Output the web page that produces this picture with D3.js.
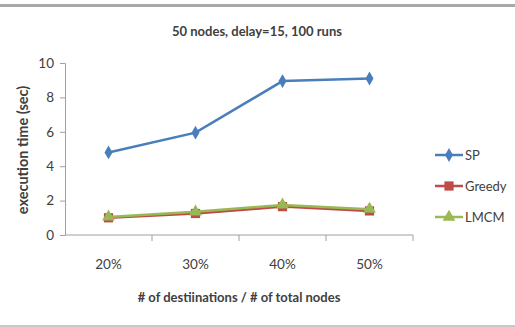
<!DOCTYPE html>
<html>
<head>
<meta charset="utf-8">
<script src="https://cdn.jsdelivr.net/npm/d3@7"></script>
<style>
  body { margin: 0; background: #fff; }
  text { font-family: Lato, "Open Sans", sans-serif; fill: #404040; }
</style>
</head>
<body>
<div id="chart"></div>
<script>
const categories = ["20%", "30%", "40%", "50%"];
const seriesNames = ["SP", "Greedy", "LMCM"];
const spValues = [4.8, 5.95, 8.95, 9.1];
const greedyValues = [1.0, 1.25, 1.65, 1.4];
const lmcmValues = [1.05, 1.35, 1.75, 1.5];
const yTicks = [0, 2, 4, 6, 8, 10];

const colors = {SP: "#4a7ebb", Greedy: "#be4b48", LMCM: "#98b954"};
const series = [
  {name: "SP", values: spValues},
  {name: "Greedy", values: greedyValues},
  {name: "LMCM", values: lmcmValues}
];

const W = 515, H = 327;
const margin = {top: 63, left: 65, right: 102, bottom: 92};
const width = W - margin.left - margin.right,
      height = H - margin.top - margin.bottom;

const svg = d3.select("#chart")
  .append("svg")
    .attr("width", W)
    .attr("height", H);

// outer frame lines
svg.append("rect").attr("x", 0).attr("y", 4).attr("width", W).attr("height", 3).attr("fill", "#a8a8a8");
svg.append("rect").attr("x", 0).attr("y", 325).attr("width", W).attr("height", 2).attr("fill", "#c8c8c8");

const g = svg.append("g").attr("transform", `translate(${margin.left},${margin.top})`);

const x = d3.scaleBand().domain(categories).range([0, width]);
const y = d3.scaleLinear().domain([0, 10]).range([height, 0]);

// y axis
const yAxis = g.append("g")
  .call(d3.axisLeft(y).tickValues(yTicks).tickSize(5).tickPadding(6));
yAxis.select(".domain").attr("stroke", "#a0a0a0");
yAxis.selectAll(".tick line").attr("stroke", "#a0a0a0");
yAxis.selectAll(".tick text").style("font-size", "13.5px").attr("fill", "#404040");

// x axis: ticks at band boundaries, labels at band centres
const xAxisG = g.append("g").attr("transform", `translate(0,${height})`);
xAxisG.append("line").attr("x1", 0).attr("x2", width).attr("stroke", "#a0a0a0");
xAxisG.selectAll(".xtick")
  .data(categories)
  .enter().append("line")
    .attr("x1", d => x(d) + x.bandwidth())
    .attr("x2", d => x(d) + x.bandwidth())
    .attr("y1", 0).attr("y2", 6)
    .attr("stroke", "#a0a0a0");
xAxisG.selectAll(".xlabel")
  .data(categories)
  .enter().append("text")
    .attr("x", d => x(d) + x.bandwidth() / 2)
    .attr("y", 34)
    .attr("text-anchor", "middle")
    .style("font-size", "13.5px")
    .text(d => d);

// lines
const line = d3.line()
  .x((d, i) => x(categories[i]) + x.bandwidth() / 2)
  .y(d => y(d));

const sym = {
  SP: d3.symbol().type(d3.symbolDiamond).size(55),
  Greedy: d3.symbol().type(d3.symbolSquare).size(85),
  LMCM: d3.symbol().type(d3.symbolTriangle).size(70)
};

series.forEach(s => {
  g.append("path")
    .datum(s.values)
    .attr("fill", "none")
    .attr("stroke", colors[s.name])
    .attr("stroke-width", 2.5)
    .attr("d", line);
  g.selectAll(".pt-" + s.name)
    .data(s.values)
    .enter().append("path")
      .attr("transform", (d, i) => `translate(${x(categories[i]) + x.bandwidth() / 2},${y(d)})`)
      .attr("d", sym[s.name]())
      .attr("fill", colors[s.name]);
});

// titles
svg.append("text")
  .attr("x", 257).attr("y", 36)
  .attr("text-anchor", "middle")
  .style("font-size", "13px")
  .style("font-weight", "bold")
  .attr("fill", "#000")
  .text("50 nodes, delay=15, 100 runs");

svg.append("text")
  .attr("x", 239).attr("y", 302)
  .attr("text-anchor", "middle")
  .style("font-size", "13px")
  .style("font-weight", "bold")
  .attr("fill", "#000")
  .text("# of destiinations / # of total nodes");

svg.append("text")
  .attr("transform", "translate(28,150) rotate(-90)")
  .attr("text-anchor", "middle")
  .style("font-size", "14.5px")
  .style("font-weight", "bold")
  .attr("fill", "#000")
  .text("execution time (sec)");

// legend
const legend = svg.append("g").attr("transform", "translate(435,155)");
seriesNames.forEach((name, i) => {
  const lg = legend.append("g").attr("transform", `translate(0,${i * 31})`);
  lg.append("line").attr("x1", 0).attr("x2", 28).attr("stroke", colors[name]).attr("stroke-width", 2.5);
  lg.append("path").attr("transform", "translate(14,0)").attr("d", sym[name]()).attr("fill", colors[name]);
  lg.append("text").attr("x", 30).attr("y", 5).style("font-size", "13px").text(name);
});
</script>
</body>
</html>
